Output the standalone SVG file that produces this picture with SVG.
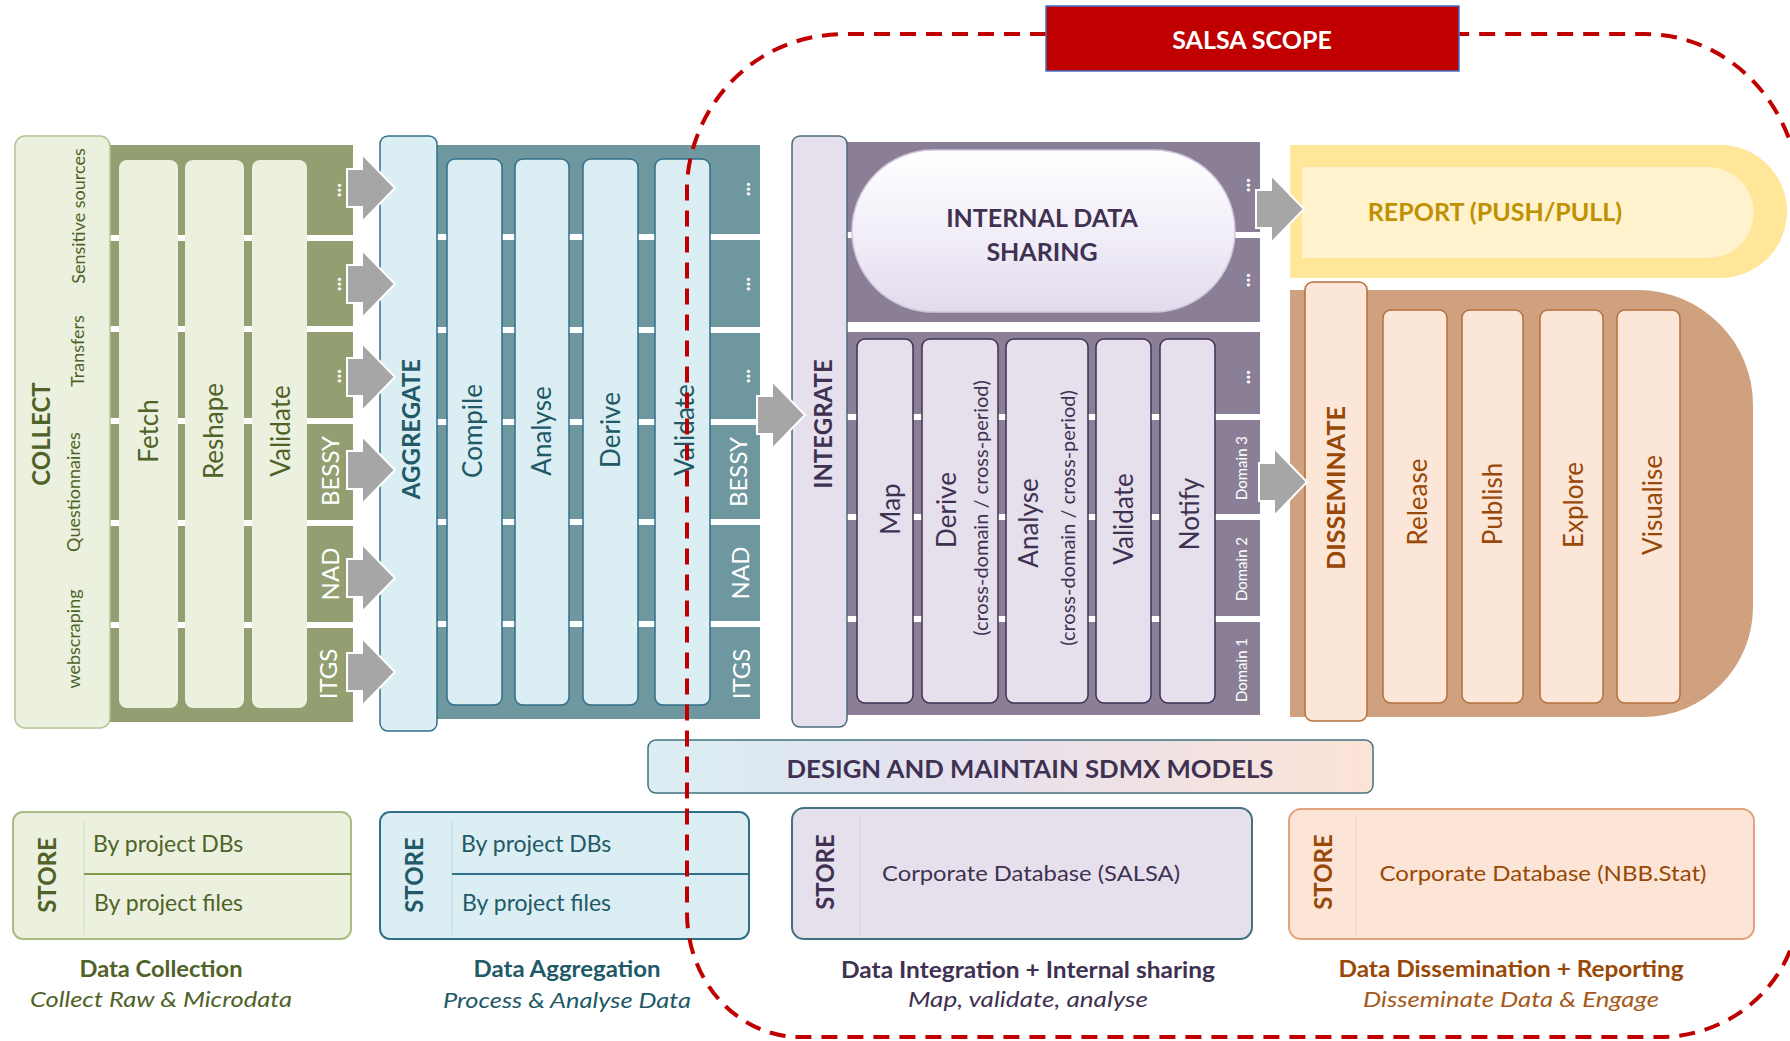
<svg xmlns="http://www.w3.org/2000/svg" width="1790" height="1041" viewBox="0 0 1790 1041">
<defs>
<style>
text { font-family: Lato, "Open Sans", "DejaVu Sans", sans-serif; }
.c { text-anchor: middle; dominant-baseline: central; }
.b { font-weight: bold; }
.i { font-style: italic; }
.lbl { font-size: 26px; }
.sm { font-size: 18px; }
.side { font-size: 24px; fill: #ffffff; }
.dots { font-size: 20px; fill: #ffffff; font-weight: bold; }
.dom { font-size: 15px; fill: #ffffff; }
.gr { fill: #4f6228; }
.tl { fill: #215967; }
.pu { fill: #3f3151; }
.br { fill: #984807; }
.wl { fill: #ffffff; }
.colG { fill: #ebf1de; }
.colT { fill: #dbeef3; stroke: #31708a; stroke-width: 1.5; }
.colP { fill: #e5e0ec; stroke: #403152; stroke-width: 1.5; }
.colB { fill: #fce6d7; stroke: #b4703a; stroke-width: 1.5; }
.cap { font-size: 23px; font-weight: bold; text-anchor: middle; }
.sub { font-size: 22px; font-style: italic; text-anchor: middle; }
.st { font-size: 24px; font-weight: bold; }
.sto { font-size: 23px; }
</style>
<path id="arr" d="M0,-19 H15 V-34 L48,0 L15,34 V19 H0 Z" fill="#a6a6a6" stroke="#ffffff" stroke-width="2"/>
<linearGradient id="pillG" x1="0" y1="0" x2="0" y2="1">
<stop offset="0" stop-color="#ffffff"/>
<stop offset="0.55" stop-color="#f1edf8"/>
<stop offset="1" stop-color="#e2dbec"/>
</linearGradient>
<linearGradient id="sdmxG" x1="0" y1="0" x2="1" y2="0">
<stop offset="0" stop-color="#daeef3"/>
<stop offset="0.45" stop-color="#e6e0ee"/>
<stop offset="1" stop-color="#fce4d6"/>
</linearGradient>
</defs>

<rect width="1790" height="1041" fill="#ffffff"/>

<!-- COLLECT -->
<g id="collect">
<rect x="105" y="145" width="248" height="577" fill="#949f71"/>
<rect x="105" y="235" width="248" height="6" class="wl"/>
<rect x="105" y="326" width="248" height="6" class="wl"/>
<rect x="105" y="418" width="248" height="6" class="wl"/>
<rect x="105" y="520" width="248" height="6" class="wl"/>
<rect x="105" y="622" width="248" height="6" class="wl"/>
<rect x="15" y="136" width="95" height="592" rx="10" fill="#ebf1de" stroke="#b4c592" stroke-width="1.5"/>
<rect x="119" y="160" width="59" height="548" rx="8" class="colG"/>
<rect x="185" y="160" width="59" height="548" rx="8" class="colG"/>
<rect x="252" y="160" width="55" height="548" rx="8" class="colG"/>
<text class="c b gr" font-size="24" transform="translate(40,434) rotate(-90)">COLLECT</text>
<text class="c sm gr" transform="translate(78,216) rotate(-90)">Sensitive sources</text>
<text class="c sm gr" transform="translate(77,351) rotate(-90)">Transfers</text>
<text class="c sm gr" transform="translate(73,492) rotate(-90)">Questionnaires</text>
<text class="c sm gr" transform="translate(73,639) rotate(-90)">webscraping</text>
<text class="c lbl gr" transform="translate(148,431) rotate(-90)">Fetch</text>
<text class="c lbl gr" transform="translate(213,431) rotate(-90)">Reshape</text>
<text class="c lbl gr" transform="translate(280,431) rotate(-90)">Validate</text>
<text class="c dots" transform="translate(333,190) rotate(-90)">...</text>
<text class="c dots" transform="translate(333,284) rotate(-90)">...</text>
<text class="c dots" transform="translate(333,376) rotate(-90)">...</text>
<text class="c side" transform="translate(329,471) rotate(-90)">BESSY</text>
<text class="c side" transform="translate(329,574) rotate(-90)">NAD</text>
<text class="c side" transform="translate(327,674) rotate(-90)">ITGS</text>
</g>

<!-- AGGREGATE -->
<g id="aggregate">
<rect x="432" y="145" width="328" height="574" fill="#6f97a0"/>
<rect x="432" y="234" width="328" height="6" class="wl"/>
<rect x="432" y="327" width="328" height="6" class="wl"/>
<rect x="432" y="419" width="328" height="6" class="wl"/>
<rect x="432" y="519" width="328" height="6" class="wl"/>
<rect x="432" y="621" width="328" height="6" class="wl"/>
<rect x="380" y="136" width="57" height="595" rx="8" fill="#dbeef3" stroke="#31708a" stroke-width="1.5"/>
<rect x="447" y="159" width="55" height="546" rx="8" class="colT"/>
<rect x="515" y="159" width="54" height="546" rx="8" class="colT"/>
<rect x="583" y="159" width="55" height="546" rx="8" class="colT"/>
<rect x="655" y="159" width="55" height="546" rx="8" class="colT"/>
<text class="c b tl" font-size="24" transform="translate(410,429) rotate(-90)">AGGREGATE</text>
<text class="c lbl tl" transform="translate(472,431) rotate(-90)">Compile</text>
<text class="c lbl tl" transform="translate(541,431) rotate(-90)">Analyse</text>
<text class="c lbl tl" transform="translate(610,430) rotate(-90)">Derive</text>
<text class="c lbl tl" transform="translate(684,430) rotate(-90)">Validate</text>
<text class="c dots" transform="translate(742,189) rotate(-90)">...</text>
<text class="c dots" transform="translate(742,284) rotate(-90)">...</text>
<text class="c dots" transform="translate(742,376) rotate(-90)">...</text>
<text class="c side" transform="translate(737,472) rotate(-90)">BESSY</text>
<text class="c side" transform="translate(739,573) rotate(-90)">NAD</text>
<text class="c side" transform="translate(740,674) rotate(-90)">ITGS</text>
</g>

<!-- INTEGRATE -->
<g id="integrate">
<rect x="842" y="142" width="418" height="180" fill="#8b7f97"/>
<rect x="842" y="332" width="418" height="383" fill="#8b7f97"/>
<rect x="842" y="232" width="418" height="6" class="wl"/>
<rect x="842" y="414" width="418" height="6" class="wl"/>
<rect x="842" y="514" width="418" height="6" class="wl"/>
<rect x="842" y="616" width="418" height="6" class="wl"/>
<rect x="792" y="136" width="55" height="591" rx="8" fill="#e5e0ec" stroke="#4b6a78" stroke-width="1.5"/>
<rect x="852" y="150" width="383" height="162" rx="81" fill="url(#pillG)" stroke="#cfc6dc" stroke-width="1.5"/>
<rect x="857" y="339" width="56" height="364" rx="8" class="colP"/>
<rect x="922" y="339" width="76" height="364" rx="8" class="colP"/>
<rect x="1006" y="339" width="82" height="364" rx="8" class="colP"/>
<rect x="1096" y="339" width="55" height="364" rx="8" class="colP"/>
<rect x="1160" y="339" width="55" height="364" rx="8" class="colP"/>
<text class="c b pu" font-size="24" transform="translate(822,424) rotate(-90)">INTEGRATE</text>
<text class="c b pu" font-size="25" x="1042" y="217">INTERNAL DATA</text>
<text class="c b pu" font-size="25" x="1042" y="251">SHARING</text>
<text class="c lbl pu" transform="translate(890,509) rotate(-90)">Map</text>
<text class="c lbl pu" transform="translate(946,510) rotate(-90)">Derive</text>
<text class="c pu" font-size="20" transform="translate(980,508) rotate(-90)">(cross-domain / cross-period)</text>
<text class="c lbl pu" transform="translate(1028,523) rotate(-90)">Analyse</text>
<text class="c pu" font-size="20" transform="translate(1067,518) rotate(-90)">(cross-domain / cross-period)</text>
<text class="c lbl pu" transform="translate(1123,519) rotate(-90)">Validate</text>
<text class="c lbl pu" transform="translate(1189,514) rotate(-90)">Notify</text>
<text class="c dots" transform="translate(1242,185) rotate(-90)">...</text>
<text class="c dots" transform="translate(1242,280) rotate(-90)">...</text>
<text class="c dots" transform="translate(1242,377) rotate(-90)">...</text>
<text class="c dom" transform="translate(1241,468) rotate(-90)">Domain 3</text>
<text class="c dom" transform="translate(1241,569) rotate(-90)">Domain 2</text>
<text class="c dom" transform="translate(1241,670) rotate(-90)">Domain 1</text>
</g>

<!-- REPORT -->
<g id="report">
<path d="M1290,145 H1720 A67,66.5 0 0 1 1720,278 H1290 Z" fill="#ffe699"/>
<path d="M1302,167 H1708 A45.5,45.5 0 0 1 1708,258 H1302 Z" fill="#fff2cc"/>
<text class="c b" font-size="25" fill="#bf9000" x="1495" y="211">REPORT (PUSH/PULL)</text>
</g>

<!-- DISSEMINATE -->
<g id="disseminate">
<path d="M1290,290 H1638 A115,115 0 0 1 1753,405 V607 A110,110 0 0 1 1643,717 H1290 Z" fill="#cfa17f"/>
<rect x="1305" y="282" width="62" height="439" rx="8" class="colB"/>
<rect x="1383" y="310" width="64" height="393" rx="8" class="colB"/>
<rect x="1462" y="310" width="61" height="393" rx="8" class="colB"/>
<rect x="1540" y="310" width="63" height="393" rx="8" class="colB"/>
<rect x="1617" y="310" width="63" height="393" rx="8" class="colB"/>
<text class="c b br" font-size="25" transform="translate(1335,488) rotate(-90)">DISSEMINATE</text>
<text class="c lbl br" transform="translate(1417,502) rotate(-90)">Release</text>
<text class="c lbl br" transform="translate(1492,504) rotate(-90)">Publish</text>
<text class="c lbl br" transform="translate(1573,505) rotate(-90)">Explore</text>
<text class="c lbl br" transform="translate(1652,505) rotate(-90)">Visualise</text>
</g>

<!-- DESIGN AND MAINTAIN SDMX MODELS -->
<g id="sdmx">
<rect x="648" y="740" width="725" height="53" rx="8" fill="url(#sdmxG)" stroke="#41727e" stroke-width="1.5"/>
<text class="c b pu" font-size="25" x="1030" y="768" textLength="487" lengthAdjust="spacingAndGlyphs">DESIGN AND MAINTAIN SDMX MODELS</text>
</g>

<!-- STORES -->
<g id="store-collect">
<rect x="13" y="812" width="338" height="127" rx="10" fill="#ebf1de" stroke="#a9bd83" stroke-width="2"/>
<line x1="84" y1="820" x2="84" y2="935" stroke="#dfe8cc" stroke-width="2"/>
<line x1="84" y1="874" x2="351" y2="874" stroke="#7f9a4a" stroke-width="2"/>
<text class="c st gr" transform="translate(46,875) rotate(-90)">STORE</text>
<text class="sto gr" x="93" y="852">By project DBs</text>
<text class="sto gr" x="94" y="911">By project files</text>
</g>
<g id="store-aggregate">
<rect x="380" y="812" width="369" height="127" rx="10" fill="#dbeef3" stroke="#31708a" stroke-width="2"/>
<line x1="452" y1="820" x2="452" y2="935" stroke="#cde4ec" stroke-width="2"/>
<line x1="452" y1="874" x2="749" y2="874" stroke="#31708a" stroke-width="2"/>
<text class="c st tl" transform="translate(413,875) rotate(-90)">STORE</text>
<text class="sto tl" x="461" y="852">By project DBs</text>
<text class="sto tl" x="462" y="911">By project files</text>
</g>
<g id="store-integrate">
<rect x="792" y="808" width="460" height="131" rx="12" fill="#e5e0ec" stroke="#41727e" stroke-width="2"/>
<line x1="860" y1="816" x2="860" y2="935" stroke="#dcd6e6" stroke-width="2"/>
<text class="c st pu" transform="translate(824,872) rotate(-90)">STORE</text>
<text class="c pu" font-size="22" x="1031" y="872" textLength="298" lengthAdjust="spacingAndGlyphs">Corporate Database (SALSA)</text>
</g>
<g id="store-disseminate">
<rect x="1289" y="809" width="465" height="130" rx="12" fill="#fce5d6" stroke="#e2a47c" stroke-width="2"/>
<line x1="1356" y1="816" x2="1356" y2="935" stroke="#f5dccb" stroke-width="2"/>
<text class="c st br" transform="translate(1322,872) rotate(-90)">STORE</text>
<text class="c br" font-size="22" x="1543" y="872" textLength="327" lengthAdjust="spacingAndGlyphs">Corporate Database (NBB.Stat)</text>
</g>

<!-- CAPTIONS -->
<g id="captions">
<text class="cap gr" x="161" y="977" textLength="163" lengthAdjust="spacingAndGlyphs">Data Collection</text>
<text class="sub gr" x="161" y="1007" textLength="262" lengthAdjust="spacingAndGlyphs">Collect Raw &amp; Microdata</text>
<text class="cap tl" x="567" y="977" textLength="187" lengthAdjust="spacingAndGlyphs">Data Aggregation</text>
<text class="sub tl" x="567" y="1008" textLength="248" lengthAdjust="spacingAndGlyphs">Process &amp; Analyse Data</text>
<text class="cap pu" x="1028" y="978" textLength="374" lengthAdjust="spacingAndGlyphs">Data Integration + Internal sharing</text>
<text class="sub pu" x="1028" y="1007" textLength="240" lengthAdjust="spacingAndGlyphs">Map, validate, analyse</text>
<text class="cap br" x="1511" y="977" textLength="345" lengthAdjust="spacingAndGlyphs">Data Dissemination + Reporting</text>
<text class="sub" fill="#a65a1a" x="1511" y="1007" textLength="296" lengthAdjust="spacingAndGlyphs">Disseminate Data &amp; Engage</text>
</g>

<!-- CONNECTORS -->
<g id="connectors">
<use href="#arr" transform="translate(347,188)"/>
<use href="#arr" transform="translate(347,284)"/>
<use href="#arr" transform="translate(347,377)"/>
<use href="#arr" transform="translate(347,470)"/>
<use href="#arr" transform="translate(347,578)"/>
<use href="#arr" transform="translate(347,672)"/>
<use href="#arr" transform="translate(757,415)"/>
<use href="#arr" transform="translate(1256,209)"/>
<use href="#arr" transform="translate(1259,482)"/>
</g>

<!-- SALSA SCOPE boundary -->
<g id="salsa-scope">
<path d="M1046,34 H846 C750,34 690,110 687,185 V913 A113,124 0 0 0 800,1037 H1660 A140,137 0 0 0 1800,900 V200 A155,166 0 0 0 1645,34 H1459" fill="none" stroke="#c00000" stroke-width="4" stroke-dasharray="16 10"/>
<rect x="1046" y="6" width="413" height="65" fill="#c00000" stroke="#4472c4" stroke-width="1.5"/>
<text class="c b" font-size="25" fill="#ffffff" x="1252" y="39">SALSA SCOPE</text>
</g>
</svg>
